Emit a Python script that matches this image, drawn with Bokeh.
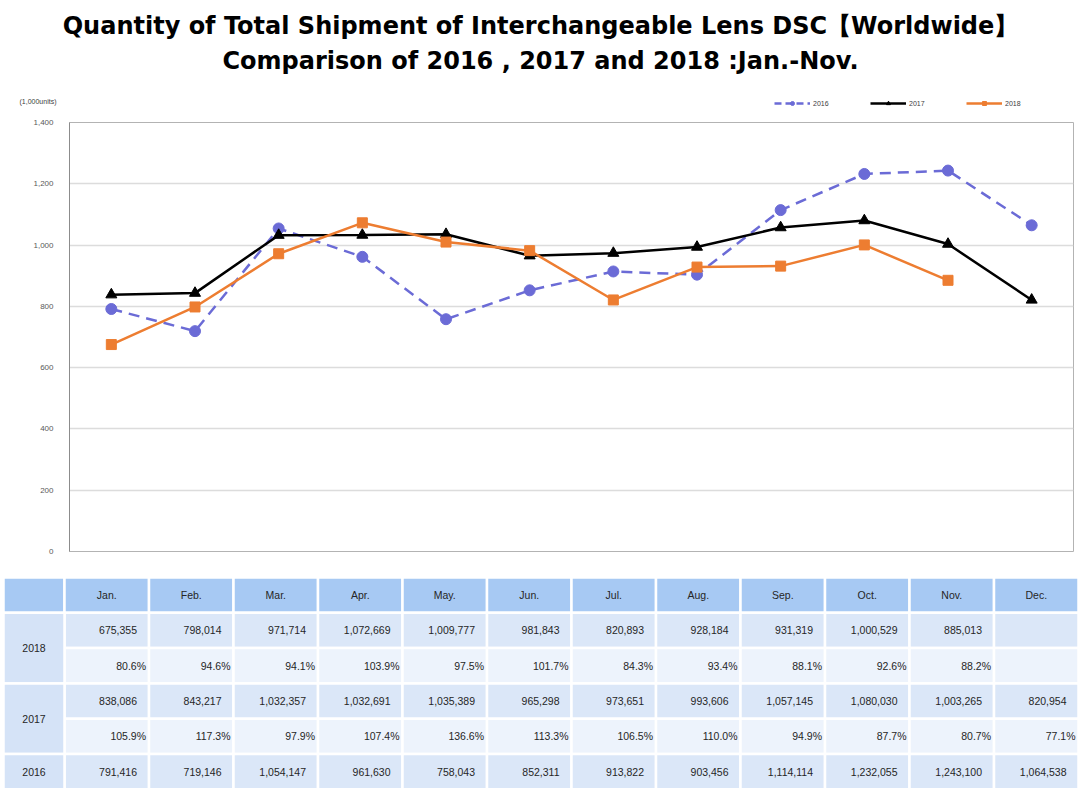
from bokeh.plotting import figure
from bokeh.models import (FactorRange, Range1d, FixedTicker, NumeralTickFormatter,
                          Legend, LegendItem, Label)
from bokeh.core.properties import value
from bokeh.embed import file_html
from bokeh.resources import INLINE

# ---------------- data ----------------
months = ["Jan.", "Feb.", "Mar.", "Apr.", "May.", "Jun.", "Jul.", "Aug.", "Sep.", "Oct.", "Nov.", "Dec."]
ship_2018 = [675355, 798014, 971714, 1072669, 1009777, 981843, 820893, 928184, 931319, 1000529, 885013]
pct_2018 = [80.6, 94.6, 94.1, 103.9, 97.5, 101.7, 84.3, 93.4, 88.1, 92.6, 88.2]
ship_2017 = [838086, 843217, 1032357, 1032691, 1035389, 965298, 973651, 993606, 1057145, 1080030, 1003265, 820954]
pct_2017 = [105.9, 117.3, 97.9, 107.4, 136.6, 113.3, 106.5, 110.0, 94.9, 87.7, 80.7, 77.1]
ship_2016 = [791416, 719146, 1054147, 961630, 758043, 852311, 913822, 903456, 1114114, 1232055, 1243100, 1064538]
y_ticks = [0, 200, 400, 600, 800, 1000, 1200, 1400]
series_names = ["2016", "2017", "2018"]
title_1 = "Quantity of Total Shipment of Interchangeable Lens DSC【Worldwide】"
title_2 = "Comparison of 2016 , 2017 and 2018 :Jan.-Nov."
unit_label = "(1,000units)"

C16 = "#6b6bd6"
C17 = "#000000"
C18 = "#ed7d31"
DASH16 = "11 7"
NAN = float("nan")

W = 1078
HEAD_H = 115

# ---------------- header (titles, unit, legend) ----------------
h = figure(width=W, height=HEAD_H, x_range=Range1d(0, 1), y_range=Range1d(0, 1),
           output_backend="svg", toolbar_location=None, title=None, min_border=0)
h.outline_line_color = None
h.axis.visible = False
h.grid.visible = False

h.add_layout(Label(x=540, y=HEAD_H - 25, x_units="screen", y_units="screen", text=title_1,
                   text_align="center", text_baseline="middle", text_font="DejaVu Sans",
                   text_font_style="bold", text_font_size="24px", text_color="#000000"))
h.add_layout(Label(x=540, y=HEAD_H - 60, x_units="screen", y_units="screen", text=title_2,
                   text_align="center", text_baseline="middle", text_font="DejaVu Sans",
                   text_font_style="bold", text_font_size="24px", text_color="#000000"))
h.add_layout(Label(x=19, y=HEAD_H - 101, x_units="screen", y_units="screen", text=unit_label,
                   text_align="left", text_baseline="middle", text_font="Liberation Sans",
                   text_font_size="7px", text_color="#404040"))

# legend keys (styles only; NaN -> nothing drawn in the plot area)
k16l = h.line(x=[NAN], y=[NAN], line_color=C16, line_width=2.5, line_dash="7 4")
k16m = h.scatter(x=[NAN], y=[NAN], marker="circle", size=7, fill_color=C16, line_color=C16)
k17l = h.line(x=[NAN], y=[NAN], line_color=C17, line_width=2.5)
k17m = h.scatter(x=[NAN], y=[NAN], marker="triangle", size=7, fill_color=C17, line_color=C17)
k18l = h.line(x=[NAN], y=[NAN], line_color=C18, line_width=2.5)
k18m = h.scatter(x=[NAN], y=[NAN], marker="square", size=6, fill_color=C18, line_color=C18)
legend = Legend(items=[LegendItem(label=series_names[0], renderers=[k16l, k16m]),
                       LegendItem(label=series_names[1], renderers=[k17l, k17m]),
                       LegendItem(label=series_names[2], renderers=[k18l, k18m])],
                orientation="horizontal", location=(774, HEAD_H - 108),
                background_fill_alpha=0, border_line_color=None,
                glyph_width=36, glyph_height=10, label_standoff=3, spacing=37,
                padding=0, margin=0, label_text_font_size="7px",
                label_text_font="Liberation Sans", label_text_color="#404040",
                label_height=10)
h.add_layout(legend)

# ---------------- chart ----------------
p = figure(width=W, height=450, x_range=FactorRange(factors=months), y_range=Range1d(0, 1400),
           output_backend="svg", toolbar_location=None, title=None,
           min_border_left=69, min_border_right=5, min_border_top=7, min_border_bottom=14)
p.background_fill_color = "white"
p.border_fill_color = "white"
p.outline_line_color = "#b3b3b3"
p.outline_line_width = 1
p.xaxis.visible = False
p.xgrid.visible = False
p.yaxis.ticker = FixedTicker(ticks=y_ticks)
p.yaxis.formatter = NumeralTickFormatter(format="0,0")
p.yaxis.major_label_text_font_size = "8px"
p.yaxis.major_label_text_color = "#595959"
p.yaxis.major_label_text_font = "Liberation Sans"
p.yaxis.major_tick_line_color = None
p.yaxis.minor_tick_line_color = None
p.yaxis.axis_line_color = "#8c8c8c"
p.yaxis.major_label_standoff = 10
p.ygrid.ticker = FixedTicker(ticks=y_ticks)
p.ygrid.grid_line_color = "#dcdcdc"
p.ygrid.grid_line_width = 1.5

y16 = [v / 1000 for v in ship_2016]
y17 = [v / 1000 for v in ship_2017]
y18 = [v / 1000 for v in ship_2018]

p.line(months, y16, line_color=C16, line_width=2.5, line_dash=DASH16)
p.scatter(months, y16, marker="circle", size=11, fill_color=C16, line_color=C16)
p.line(months, y17, line_color=C17, line_width=2.5)
p.scatter(months, y17, marker="triangle", size=11, fill_color=C17, line_color=C17)
p.line(months[:len(y18)], y18, line_color=C18, line_width=2.5)
p.scatter(months[:len(y18)], y18, marker="square", size=10, fill_color=C18, line_color=C18)

# ---------------- table ----------------
TAB_H = 224
ROW = 35.3
TOP_PAD = 12
COL = 84.5
LEFT_PAD = 64
LBL_W = (LEFT_PAD - 3) / COL
y_top = -TOP_PAD / ROW
y_bot = TAB_H / ROW + y_top
t = figure(width=W, height=TAB_H, x_range=Range1d(-LEFT_PAD / COL, (W - LEFT_PAD) / COL),
           y_range=Range1d(y_bot, y_top),
           output_backend="svg", toolbar_location=None, title=None, min_border=0)
t.outline_line_color = None
t.axis.visible = False
t.grid.visible = False
t.background_fill_color = "white"
t.border_fill_color = "white"

HDR = "#a7c9f3"
VAL = "#dbe7f8"
PCT = "#edf3fc"
LBL = "#d5e3f7"

n = len(months)
cx = [i + 0.5 for i in range(n)]
t.rect(x=[-LBL_W / 2] + cx, y=[0.5] * (n + 1), width=[LBL_W] + [1] * n, height=1,
       fill_color=HDR, line_color="white", line_width=2.5)
row_specs = [(1.5, VAL), (2.5, PCT), (3.5, VAL), (4.5, PCT), (5.5, VAL)]
for yy, col in row_specs:
    t.rect(x=cx, y=[yy] * n, width=1, height=1, fill_color=col, line_color="white", line_width=2.5)
t.rect(x=[-LBL_W / 2] * 3, y=[2.0, 4.0, 5.5], width=LBL_W, height=[2, 2, 1],
       fill_color=LBL, line_color="white", line_width=2.5)

TF = value("Liberation Sans")
TS = "10.5px"
TC = "#262626"
t.text(x=cx, y=[0.5] * n, text=months, text_align="center", text_baseline="middle",
       text_font=TF, text_font_size=TS, text_color=TC)
t.text(x=[-LBL_W / 2] * 3, y=[2.0, 4.0, 5.5], text=["2018", "2017", "2016"],
       text_align="center", text_baseline="middle", text_font=TF, text_font_size=TS, text_color=TC)


def val_row(vals, yy):
    t.text(x=[i + 1 for i in range(len(vals))], y=[yy] * len(vals), text=[f"{v:,}" for v in vals],
           text_align="right", text_baseline="middle", x_offset=-12,
           text_font=TF, text_font_size=TS, text_color=TC)


def pct_row(vals, yy):
    t.text(x=[i + 1 for i in range(len(vals))], y=[yy] * len(vals), text=[f"{v:.1f}%" for v in vals],
           text_align="right", text_baseline="middle", x_offset=-3,
           text_font=TF, text_font_size=TS, text_color=TC)


val_row(ship_2018, 1.5)
pct_row(pct_2018, 2.5)
val_row(ship_2017, 3.5)
pct_row(pct_2017, 4.5)
val_row(ship_2016, 5.5)

open("out.html", "w").write(file_html([h, p, t], INLINE))
